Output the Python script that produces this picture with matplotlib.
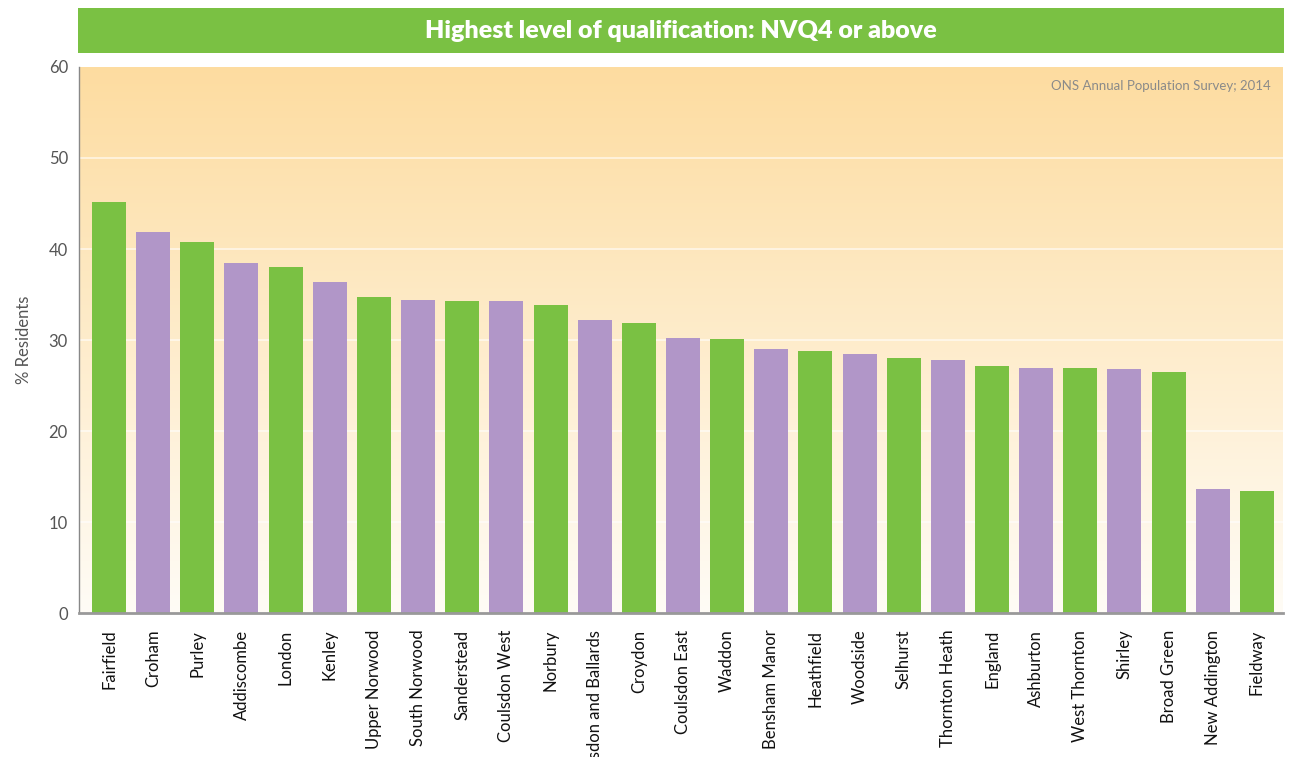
import numpy as np
import matplotlib
matplotlib.use("Agg")
import matplotlib.pyplot as plt
from matplotlib.patches import Rectangle
from matplotlib.colors import LinearSegmentedColormap

# ── 数据 ──
wards = [
    "Fairfield", "Croham", "Purley", "Addiscombe", "London", "Kenley",
    "Upper Norwood", "South Norwood", "Sanderstead", "Coulsdon West",
    "Norbury", "Selsdon and Ballards", "Croydon", "Coulsdon East", "Waddon",
    "Bensham Manor", "Heathfield", "Woodside", "Selhurst", "Thornton Heath",
    "England", "Ashburton", "West Thornton", "Shirley", "Broad Green",
    "New Addington", "Fieldway",
]
nvq4_pct = [
    45.2, 41.9, 40.8, 38.5, 38.0, 36.4,
    34.7, 34.4, 34.3, 34.3,
    33.8, 32.2, 31.9, 30.2, 30.1,
    29.0, 28.8, 28.5, 28.0, 27.8,
    27.1, 26.9, 26.9, 26.8, 26.5,
    13.6, 13.4,
]
y_ticks = [0, 10, 20, 30, 40, 50, 60]

title = "Highest level of qualification: NVQ4 or above"
source = "ONS Annual Population Survey; 2014"

GREEN = "#7AC143"
PURPLE = "#B196C8"

plt.rcParams["font.family"] = ["Lato", "DejaVu Sans"]

fig = plt.figure(figsize=(12.89, 7.57), dpi=100)
ax = fig.add_axes([0.0613, 0.1902, 0.934, 0.7213])

x = np.arange(len(wards))
colors = [GREEN if i % 2 == 0 else PURPLE for i in range(len(wards))]
ax.bar(x, nvq4_pct, width=0.77, color=colors, zorder=3)

xlo, xhi = -0.68, len(wards) - 1 + 0.59
ax.set_xlim(xlo, xhi)
ax.set_ylim(0, 60)

# 背景渐变
cmap = LinearSegmentedColormap.from_list("bg", ["#FFFCF6", "#FDDCA0"])
grad = np.linspace(0, 1, 256).reshape(-1, 1)
ax.imshow(grad, cmap=cmap, origin="lower", aspect="auto",
          extent=[xlo, xhi, 0, 60], zorder=0)

for yv in y_ticks[1:-1]:
    ax.axhline(yv, color="white", linewidth=1.3, alpha=0.6, zorder=1)

ax.set_yticks(y_ticks)
ax.set_yticklabels([str(v) for v in y_ticks], color="#555555", fontsize=12)
ax.tick_params(axis="y", length=0, pad=8)
ax.set_xticks(x)
ax.set_xticklabels(wards, rotation=90, fontsize=12, color="#111111")
ax.tick_params(axis="x", length=0, pad=12)

for s in ["top", "right"]:
    ax.spines[s].set_visible(False)
ax.spines["left"].set_color("#888888")
ax.spines["left"].set_linewidth(1)
ax.spines["bottom"].set_color("#999999")
ax.spines["bottom"].set_linewidth(2)
ax.spines["left"].set_zorder(4)
ax.spines["bottom"].set_zorder(4)

ax.set_ylabel("% Residents", fontsize=12, color="#555555", labelpad=12)

ax.text(0.99, 0.965, source, transform=ax.transAxes, ha="right", va="center",
        fontsize=9.5, color="#8a8a8a", zorder=5)

# 标题栏
fig.patches.append(Rectangle((78 / 1289, 1 - 53 / 757), (1284 - 78) / 1289,
                             45 / 757, transform=fig.transFigure,
                             facecolor=GREEN, edgecolor="none"))
fig.text((78 + 1284) / 2 / 1289, 1 - 31 / 757, title, ha="center", va="center",
         color="white", fontsize=18, fontweight="heavy")

fig.savefig("out.png", dpi=100)
